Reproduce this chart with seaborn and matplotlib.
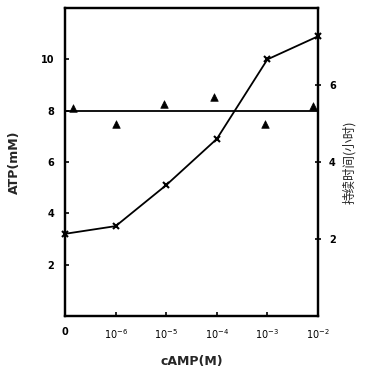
import numpy as np
import pandas as pd
import matplotlib.pyplot as plt
import seaborn as sns

# cAMP 浓度 (等距类别)
camp_labels = ["0", "$10^{-6}$", "$10^{-5}$", "$10^{-4}$", "$10^{-3}$", "$10^{-2}$"]
camp_pos = [0, 1, 2, 3, 4, 5]
atp_mm = [3.2, 3.5, 5.1, 6.9, 10.0, 10.9]

# 持续时间 (小时), 三角形
tri_pos = [0.15, 1, 1.95, 2.95, 3.95, 4.9]
duration_h = [5.4, 5.0, 5.5, 5.7, 5.0, 5.45]
mean_level = 8.0  # 左轴上的水平线

sns.set_style("ticks")
plt.rcParams['font.family'] = ['DejaVu Sans', 'Noto Sans CJK SC']

fig = plt.figure(figsize=(3.68, 3.69), dpi=100)
ax = fig.add_axes([0.177, 0.144, 0.687, 0.834])

df = pd.DataFrame({"pos": camp_pos, "atp": atp_mm})
sns.lineplot(data=df, x="pos", y="atp", ax=ax, color="black", lw=1.3,
             marker="x", markersize=5, mew=1.5, markeredgecolor="black",
             clip_on=False)
ax.axhline(mean_level, color="black", lw=1.3)

ax.set_xlim(0, 5)
ax.set_ylim(0, 12)
ax.set_xticks(camp_pos)
ax.set_xticklabels(camp_labels, fontsize=7, fontweight="bold")
ax.set_yticks([2, 4, 6, 8, 10])
ax.set_yticklabels(["2", "4", "6", "8", "10"], fontsize=7, fontweight="bold")
ax.tick_params(direction="in", length=3, width=1.2, pad=8, colors="black")
ax.set_xlabel("cAMP(M)", fontsize=9, fontweight="bold", labelpad=10)
ax.set_ylabel("ATP(mM)", fontsize=9, fontweight="bold", labelpad=14)

ax2 = ax.twinx()
tdf = pd.DataFrame({"pos": tri_pos, "dur": duration_h})
sns.scatterplot(data=tdf, x="pos", y="dur", ax=ax2, marker="^", color="black",
                s=30, edgecolor="black", clip_on=False)
ax2.set_ylim(0, 8)
ax2.set_yticks([2, 4, 6])
ax2.set_yticklabels(["2", "4", "6"], fontsize=7, fontweight="bold")
ax2.tick_params(direction="inout", length=4, width=1.2, pad=6, colors="black")
ax2.set_ylabel("持续时间(小时)", fontsize=9,
               family=['Noto Sans CJK SC', 'DejaVu Sans'], labelpad=5)
ax2.set_xlabel("")

for a in (ax, ax2):
    for sp in a.spines.values():
        sp.set_visible(True)
        sp.set_linewidth(1.6)
        sp.set_color("black")

fig.savefig("out.png", dpi=100)
